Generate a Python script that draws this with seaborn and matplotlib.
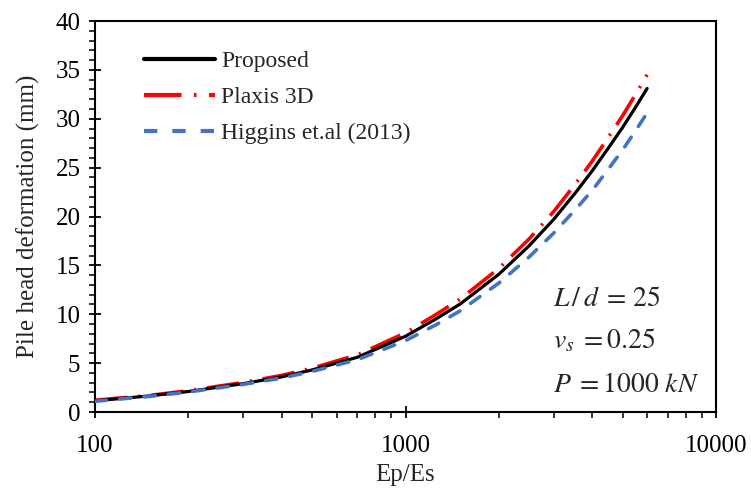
import numpy as np
import pandas as pd
import matplotlib
matplotlib.use("Agg")
import matplotlib.pyplot as plt
import seaborn as sns
from matplotlib.ticker import MultipleLocator, LogLocator, NullFormatter, FixedLocator, FuncFormatter

# Stiffness ratio Ep/Es and pile head deformation (mm) for each method
ep_es = [100, 150, 200, 300, 400, 500, 700, 1000, 1250, 1500, 2000, 2500,
         3000, 3500, 4000, 4500, 5000, 5500, 6000]
proposed = [1.15, 1.65, 2.1, 2.9, 3.6, 4.3, 5.6, 7.75, 9.5, 11.05, 14.1, 17.0,
            19.7, 22.3, 24.7, 27.0, 29.1, 31.15, 33.1]
plaxis = [1.2, 1.7, 2.18, 3.02, 3.75, 4.48, 5.85, 8.1, 9.95, 11.55, 14.7, 17.7,
          20.5, 23.2, 25.7, 28.1, 30.3, 32.45, 34.5]
higgins = [1.1, 1.6, 2.05, 2.82, 3.48, 4.15, 5.35, 7.3, 8.9, 10.35, 13.2, 15.85,
           18.3, 20.6, 22.7, 24.85, 26.8, 28.75, 30.6]

methods = ["Proposed", "Plaxis 3D", "Higgins et.al (2013)"]
colors = {"Proposed": "#000000", "Plaxis 3D": "#FF0000", "Higgins et.al (2013)": "#4472C4"}
dashes = {"Proposed": "", "Plaxis 3D": (9, 3, 0.6, 3), "Higgins et.al (2013)": (3.2, 3.6)}

df = pd.DataFrame({
    "Ep/Es": ep_es * 3,
    "deformation": proposed + plaxis + higgins,
    "method": [methods[0]] * len(ep_es) + [methods[1]] * len(ep_es) + [methods[2]] * len(ep_es),
})

sns.set_style("ticks")
plt.rcParams["font.family"] = ["Liberation Serif", "DejaVu Serif"]
plt.rcParams["mathtext.fontset"] = "stix"

fig = plt.figure(figsize=(7.51, 4.93), dpi=100)
ax = fig.add_axes([0.1265, 0.1643, 0.9534 - 0.1265, 0.9574 - 0.1643])

sns.lineplot(data=df, x="Ep/Es", y="deformation", hue="method", style="method",
             hue_order=methods, style_order=methods, palette=colors, dashes=dashes,
             linewidth=2.3, ax=ax, legend=True)

zorders = {"Proposed": 3, "Plaxis 3D": 2, "Higgins et.al (2013)": 4}
for line, name in zip(ax.get_lines()[:3], methods):
    line.set_zorder(zorders[name])
    line.set_solid_joinstyle("round")
    if name == "Higgins et.al (2013)":
        line.set_dash_capstyle("round")
        line.set_linewidth(2.6)
    elif name == "Plaxis 3D":
        line.set_linewidth(2.6)
        line.set_dash_capstyle("butt")

ax.set_xscale("log")
ax.set_xlim(100, 10000)
ax.set_ylim(0, 40)
ax.xaxis.set_major_locator(FixedLocator([100, 1000, 10000]))
ax.xaxis.set_major_formatter(FuncFormatter(lambda v, p: f"{int(v)}"))
ax.xaxis.set_minor_locator(LogLocator(base=10, subs=np.arange(2, 10)))
ax.xaxis.set_minor_formatter(NullFormatter())
ax.yaxis.set_major_locator(MultipleLocator(5))
ax.yaxis.set_minor_locator(MultipleLocator(1))

ax.tick_params(axis="both", which="major", direction="inout", length=9, width=1.3,
               labelsize=18, colors="black", pad=6)
ax.tick_params(axis="both", which="minor", direction="out", length=4.5, width=1.3)
ax.tick_params(axis="x", which="major", pad=12)
for side in ["left", "right", "top", "bottom"]:
    ax.spines[side].set_visible(True)
    ax.spines[side].set_linewidth(1.5)
    ax.spines[side].set_color("black")

ax.set_xlabel("Ep/Es", fontsize=18, labelpad=5)
ax.set_ylabel("Pile head deformation (mm)", fontsize=18, labelpad=11)

leg = ax.legend(loc="upper left", bbox_to_anchor=(0.045, 0.978), frameon=False,
                fontsize=17, handlelength=3.0, handletextpad=0.25, labelspacing=0.6)
for h in leg.get_lines():
    h.set_linewidth(3)

ax.text(0.737, 0.27, r"$L\,/\,d\;=\,25$", transform=ax.transAxes, fontsize=20)
ax.text(0.737, 0.162, r"$v_s\;=0.25$", transform=ax.transAxes, fontsize=20)
ax.text(0.737, 0.05, r"$P\;=1000\ kN$", transform=ax.transAxes, fontsize=20)

fig.savefig("out.png", dpi=100)
